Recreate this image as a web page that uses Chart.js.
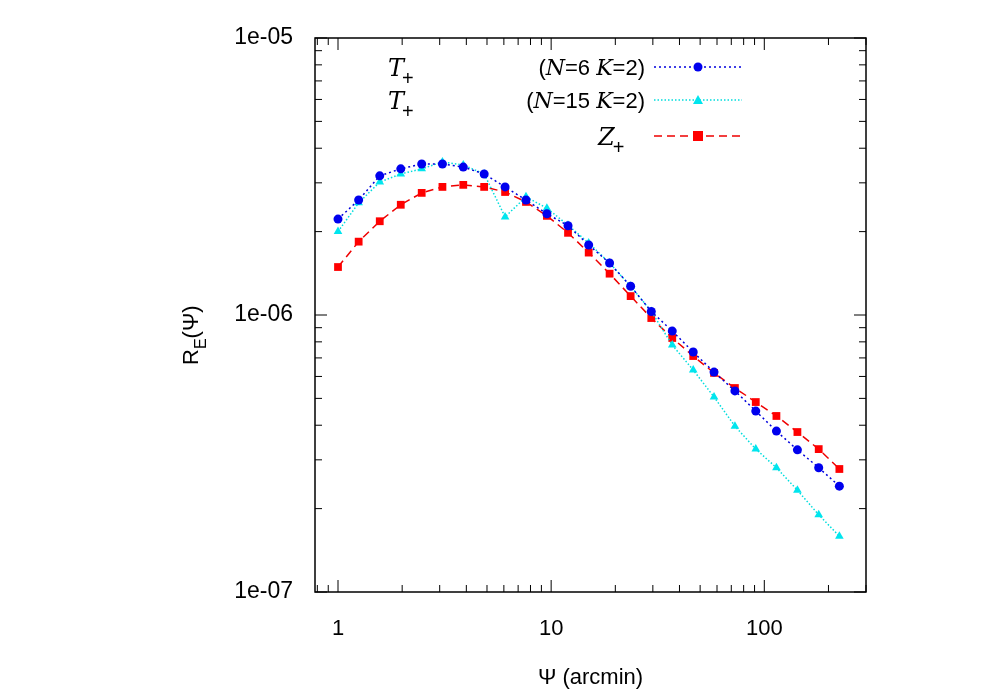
<!DOCTYPE html>
<html>
<head>
<meta charset="UTF-8">
<script src="https://cdn.jsdelivr.net/npm/chart.js"></script>
<style>body{margin:0;background:#fff}#wrap{width:1000px;height:700px}</style>
</head>
<body>
<div id="wrap"><canvas id="grafico"></canvas></div>
<script>
// datos
const psi = [1, 1.25, 1.57, 1.97, 2.47, 3.09, 3.87, 4.85, 6.08, 7.62, 9.55, 12.0, 15.0, 18.8, 23.6, 29.5, 37.0, 46.4, 58.1, 72.8, 91.2, 114, 143, 180, 225];
const tN6 = [2.22e-6, 2.60e-6, 3.18e-6, 3.37e-6, 3.51e-6, 3.51e-6, 3.42e-6, 3.23e-6, 2.90e-6, 2.60e-6, 2.32e-6, 2.10e-6, 1.79e-6, 1.54e-6, 1.27e-6, 1.03e-6, 8.75e-7, 7.35e-7, 6.22e-7, 5.32e-7, 4.50e-7, 3.81e-7, 3.26e-7, 2.81e-7, 2.41e-7];
const tN15 = [2.00e-6, 2.54e-6, 3.02e-6, 3.23e-6, 3.37e-6, 3.57e-6, 3.48e-6, 3.23e-6, 2.26e-6, 2.67e-6, 2.43e-6, 2.11e-6, 1.82e-6, 1.54e-6, 1.27e-6, 1.03e-6, 7.79e-7, 6.33e-7, 5.06e-7, 3.97e-7, 3.28e-7, 2.81e-7, 2.33e-7, 1.90e-7, 1.59e-7];
const zPlus = [1.49e-6, 1.84e-6, 2.18e-6, 2.50e-6, 2.76e-6, 2.90e-6, 2.95e-6, 2.90e-6, 2.78e-6, 2.56e-6, 2.28e-6, 1.98e-6, 1.68e-6, 1.41e-6, 1.17e-6, 9.75e-7, 8.26e-7, 7.11e-7, 6.18e-7, 5.45e-7, 4.85e-7, 4.32e-7, 3.78e-7, 3.28e-7, 2.78e-7];
const xTicks = [1, 10, 100];
const yTicks = [1e-7, 1e-6, 1e-5];
const yTickLabels = {'1e-7': '1e-07', '1e-6': '1e-06', '1e-5': '1e-05'};

const FONT = '"Liberation Sans", Arial, sans-serif';
const pts = arr => arr.map((v, i) => ({x: psi[i], y: v}));

// escribe trozos de texto (normal / cursiva) hacia la izquierda desde xr
function drawRight(c, parts, xr, y) {
    let x = xr;
    for (let i = parts.length - 1; i >= 0; i--) {
        c.font = (parts[i][1] ? 'italic 22px "DejaVu Serif", serif' : '22px ' + FONT);
        x -= c.measureText(parts[i][0]).width;
        c.fillText(parts[i][0], x, y);
    }
}

// ticks hacia dentro, estilo gnuplot
const gnuplotTicks = {
    id: 'gnuplotTicks',
    afterDraw(chart) {
        const c = chart.ctx, xs = chart.scales.x, ys = chart.scales.y, a = chart.chartArea;
        c.save();
        c.strokeStyle = '#000';
        c.lineWidth = 1.5;
        c.strokeRect(a.left, a.top, a.right - a.left, a.bottom - a.top);
        c.lineWidth = 1;
        for (let d = 0.1; d <= 1000; d *= 10) {
            for (let m = 1; m < 10; m++) {
                const v = d * m;
                if (v < xs.min || v > xs.max) continue;
                const px = xs.getPixelForValue(v), L = m === 1 ? 12 : 7;
                c.beginPath(); c.moveTo(px, a.bottom); c.lineTo(px, a.bottom - L);
                c.moveTo(px, a.top); c.lineTo(px, a.top + L); c.stroke();
            }
        }
        for (let d = 1e-7; d <= 1e-5 * 1.01; d *= 10) {
            for (let m = 1; m < 10; m++) {
                const v = d * m;
                if (v > 1.001e-5) continue;
                const py = ys.getPixelForValue(v), L = m === 1 ? 12 : 7;
                c.beginPath(); c.moveTo(a.left, py); c.lineTo(a.left + L, py);
                c.moveTo(a.right, py); c.lineTo(a.right - L, py); c.stroke();
            }
        }
        // titulos de ejes
        c.fillStyle = '#000';
        c.font = '22px ' + FONT;
        c.textAlign = 'center';
        c.textBaseline = 'alphabetic';
        c.fillText('\u03A8 (arcmin)', (a.left + a.right) / 2, 684);
        c.save();
        c.translate(198, 315);
        c.rotate(-Math.PI / 2);
        c.textAlign = 'left';
        c.font = '22px ' + FONT;
        const w1 = c.measureText('R').width;
        c.fillText('R', -50, 0);
        c.font = '16px ' + FONT;
        c.fillText('E', -50 + w1, 8);
        const w2 = c.measureText('E').width;
        c.font = '22px ' + FONT;
        c.fillText('(\u03A8)', -50 + w1 + w2, 0);
        c.restore();
        // leyenda
        const rows = [
            {y: 67, txt: [['(', 0], ['N', 1], ['=6 ', 0], ['K', 1], ['=2)', 0]], sym: 'T', ds: 0},
            {y: 100, txt: [['(', 0], ['N', 1], ['=15 ', 0], ['K', 1], ['=2)', 0]], sym: 'T', ds: 1},
            {y: 136, txt: null, sym: 'Z', ds: 2}
        ];
        rows.forEach(r => {
            const ds = chart.data.datasets[r.ds];
            c.font = 'italic 24px "DejaVu Serif", serif';
            c.textAlign = 'left';
            const sx = r.sym === 'T' ? 388 : 598;
            c.fillText(r.sym, sx, r.y + 9);
            const sw = c.measureText(r.sym).width;
            c.font = '20px ' + FONT;
            c.fillText('+', sx + sw - 2, r.y + 18);
            if (r.txt) drawRight(c, r.txt, 645, r.y + 8);
            c.strokeStyle = ds.borderColor;
            c.lineWidth = 1.5;
            c.setLineDash(ds.borderDash);
            c.beginPath(); c.moveTo(654, r.y); c.lineTo(742, r.y); c.stroke();
            c.setLineDash([]);
            c.fillStyle = ds.backgroundColor;
            if (r.ds === 0) { c.beginPath(); c.arc(698, r.y, 4.5, 0, Math.PI * 2); c.fill(); }
            if (r.ds === 1) { c.beginPath(); c.moveTo(698, r.y - 5); c.lineTo(703, r.y + 4); c.lineTo(693, r.y + 4); c.fill(); }
            if (r.ds === 2) { c.fillRect(693, r.y - 5, 10, 10); }
            c.fillStyle = '#000';
        });
        c.restore();
    }
};

const ctx = document.getElementById('grafico').getContext('2d');
const chart = new Chart(ctx, {
    type: 'line',
    data: {
        datasets: [{
            label: 'T+ (N=6 K=2)',
            data: pts(tN6),
            borderColor: '#0000dd',
            backgroundColor: '#0000ee',
            borderWidth: 1.5,
            borderDash: [2, 3],
            pointStyle: 'circle',
            pointRadius: 4.5,
            pointBorderWidth: 0,
            fill: false
        }, {
            label: 'T+ (N=15 K=2)',
            data: pts(tN15),
            borderColor: '#00dddd',
            backgroundColor: '#00e5ee',
            borderWidth: 1.5,
            borderDash: [1.5, 2],
            pointStyle: 'triangle',
            pointRadius: 5,
            pointBorderWidth: 0,
            fill: false
        }, {
            label: 'Z+',
            data: pts(zPlus),
            borderColor: '#ee0000',
            backgroundColor: '#ff0000',
            borderWidth: 1.5,
            borderDash: [8, 5],
            pointStyle: 'rect',
            pointRadius: 5.5,
            pointBorderWidth: 0,
            fill: false
        }]
    },
    options: {
        responsive: true,
        maintainAspectRatio: false,
        animation: false,
        layout: {padding: {top: 38, right: 134, left: 0, bottom: 0}},
        plugins: {legend: {display: false}, tooltip: {enabled: false}},
        scales: {
            x: {
                type: 'logarithmic',
                min: 0.78, max: 300,
                afterFit: s => { s.height = 108; },
                afterBuildTicks: s => { s.ticks = xTicks.map(v => ({value: v})); },
                grid: {display: false},
                border: {display: false},
                ticks: {
                    color: '#000', font: {family: FONT, size: 22}, padding: 16, maxRotation: 0,
                    callback: v => String(v)
                }
            },
            y: {
                type: 'logarithmic',
                min: 1e-7, max: 1e-5,
                afterFit: s => { s.width = 315; },
                afterBuildTicks: s => { s.ticks = yTicks.map(v => ({value: v})); },
                grid: {display: false},
                border: {display: false},
                ticks: {
                    color: '#000', font: {family: FONT, size: 23}, padding: 14,
                    callback: v => yTickLabels[Number(v).toExponential().replace('+', '')] || ''
                }
            }
        }
    },
    plugins: [gnuplotTicks]
});
</script>
</body>
</html>
